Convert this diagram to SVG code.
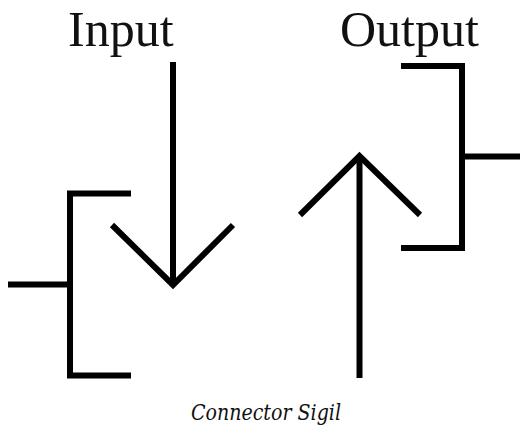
<svg xmlns="http://www.w3.org/2000/svg" width="520" height="433" viewBox="0 0 520 433">
<style>
.s{fill:none;stroke:#000;stroke-width:6;stroke-linecap:butt;stroke-linejoin:miter}
.t{font-family:"Liberation Serif","Times New Roman",serif;font-size:50px;fill:#111}
.c{font-family:"DejaVu Serif",serif;font-size:23px;font-style:italic;fill:#111}
</style>
<rect width="520" height="433" fill="#fff"/>
<g id="input">
<text class="t" x="68" y="46">Input</text>
<path class="s" d="M131 193.5H70V375.5H131"/>
<path class="s" d="M8 284.5H70"/>
</g>
<g id="output">
<text class="t" x="340" y="46">Output</text>
<path class="s" d="M401 66H462V248H401"/>
<path class="s" d="M462 156.5H520"/>
</g>
<g id="connectors">
<path class="s" d="M173 62V284"/>
<path class="s" d="M112 225L173 285L233 225"/>
<path class="s" d="M359.5 378V158"/>
<path class="s" d="M300 215L359.5 156L420 215"/>
</g>
<g id="caption">
<text class="c" x="191" y="420" textLength="150" lengthAdjust="spacingAndGlyphs">Connector Sigil</text>
</g>
</svg>
